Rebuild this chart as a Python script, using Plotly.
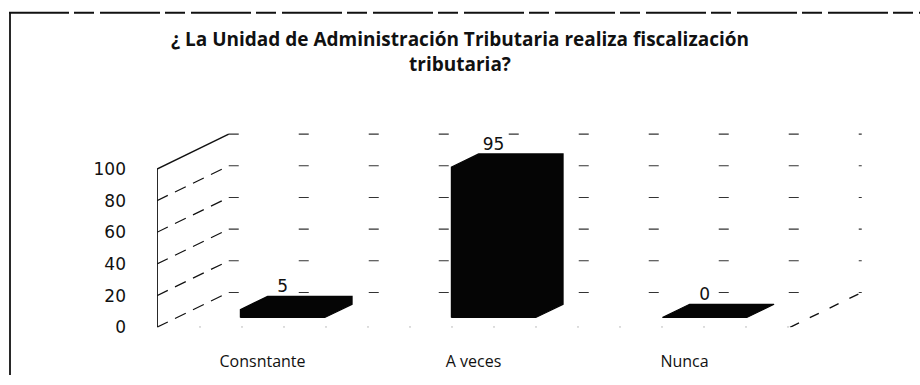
import plotly.graph_objects as go

# Survey answers
categories = ["Consntante", "A veces", "Nunca"]
values = [5, 95, 0]
y_ticks = [0, 20, 40, 60, 80, 100]
title_text = "¿ La Unidad de Administración Tributaria realiza fiscalización<br>tributaria?"

# Oblique 3D projection: depth is drawn as a shift in (category, value) units
DEPTH_X = 0.34      # full depth, horizontal shift in category units
DEPTH_Y = 22.0      # full depth, vertical shift in value units
BAR_W = 0.40        # bar width in category units
Z_FRONT, Z_BACK = 0.28, 0.66   # bar position along depth
X_LEFT, X_RIGHT = -0.5, len(categories) - 0.5
Y_MAX = 100

def depth(x, y, z):
    return x + z * DEPTH_X, y + z * DEPTH_Y

fig = go.Figure()

def add_line(xs, ys, dash="solid", width=1.2, color="#111"):
    fig.add_trace(go.Scatter(x=xs, y=ys, mode="lines", hoverinfo="skip",
                             line=dict(color=color, width=width, dash=dash),
                             showlegend=False))

# side wall (left): receding gridlines from the value axis to the back wall
for v in y_ticks:
    x1, y1 = depth(X_LEFT, v, 1.0)
    add_line([X_LEFT, x1], [v, y1],
             dash="solid" if v == Y_MAX else "12px,8px",
             width=1.5 if v == Y_MAX else 1.2)

# back wall gridlines
for v in y_ticks:
    x0, y0 = depth(X_LEFT, v, 1.0)
    x1, _ = depth(X_RIGHT, v, 1.0)
    add_line([x0, x1], [y0, y0], dash="10px,60px", width=1.1, color="#333")

# floor: front edge and receding right edge
add_line([X_LEFT, X_RIGHT], [0, 0], dash="2px,40px", width=1, color="#666")
xr, yr = depth(X_RIGHT, 0, 1.0)
add_line([X_RIGHT, xr], [0, yr], dash="10px,12px", width=1.4)

# value axis line
add_line([X_LEFT, X_LEFT], [0, Y_MAX], width=1.8, color="#111")

# 3D bars: front face, right side and top drawn as one dark silhouette
for i, v in enumerate(values):
    xl, xr_ = i - BAR_W / 2, i + BAR_W / 2
    ax, ay = depth(xl, 0, Z_FRONT)
    bx, by = depth(xr_, 0, Z_FRONT)
    bbx, bby = depth(xr_, 0, Z_BACK)
    cbx, cby = depth(xr_, v, Z_BACK)
    dbx, dby = depth(xl, v, Z_BACK)
    dx, dy = depth(xl, v, Z_FRONT)
    fig.add_trace(go.Scatter(
        x=[ax, bx, bbx, cbx, dbx, dx, ax],
        y=[ay, by, bby, cby, dby, dy, ay],
        mode="lines", fill="toself", fillcolor="#050505",
        line=dict(color="#050505", width=1.2),
        hoverinfo="skip", showlegend=False))

# value labels above each bar
lab_x = [depth(i, v, Z_FRONT)[0] for i, v in enumerate(values)]
lab_y = [depth(i, v, Z_BACK)[1] for i, v in enumerate(values)]
fig.add_trace(go.Scatter(
    x=lab_x, y=lab_y, mode="text", text=[str(v) for v in values],
    textposition="top center",
    textfont=dict(family="DejaVu Sans", size=17, color="#111"),
    hoverinfo="skip", showlegend=False, cliponaxis=False))

W, H = 920, 385
px_left, px_right = 157, 880
px_bottom, px_top = 336, 125
unit_y = 1.625
y_top = (px_bottom - px_top) / unit_y
unit_x = 211
x_top = X_LEFT + (px_right - px_left) / unit_x

fig.update_layout(
    width=W, height=H,
    margin=dict(l=0, r=0, t=0, b=0),
    paper_bgcolor="white", plot_bgcolor="white",
    title=dict(text=title_text, x=0.5, xanchor="center",
               y=1 - 46 / H, yanchor="top",
               font=dict(family="Open Sans", size=19, color="#111", weight="bold")),
    xaxis=dict(domain=[px_left / W, px_right / W], range=[X_LEFT, x_top],
               tickmode="array", tickvals=list(range(len(categories))),
               ticktext=categories, showgrid=False, zeroline=False,
               showline=False, ticks="", ticklabelstandoff=23,
               tickfont=dict(family="Open Sans", size=16, color="#111")),
    yaxis=dict(domain=[(H - px_bottom) / H, (H - px_top) / H], range=[0, y_top],
               tickmode="array", tickvals=y_ticks, showgrid=False,
               zeroline=False, showline=False, ticks="", ticklabelstandoff=30,
               tickfont=dict(family="DejaVu Sans", size=17, color="#111")),
    shapes=[
        dict(type="line", xref="paper", yref="paper",
             x0=9 / W, x1=1.0, y0=1 - 13 / H, y1=1 - 13 / H,
             line=dict(color="#111", width=2, dash="60px,5px,20px,6px")),
        dict(type="line", xref="paper", yref="paper",
             x0=10 / W, x1=10 / W, y0=0, y1=1 - 13 / H,
             line=dict(color="#111", width=1.8)),
    ],
)

fig.write_html("out.html")
